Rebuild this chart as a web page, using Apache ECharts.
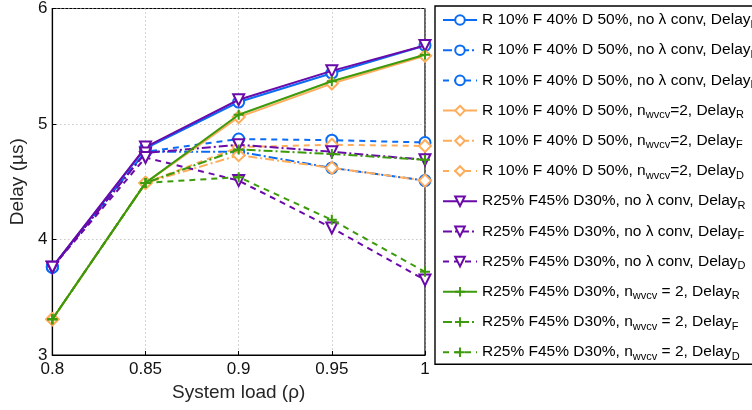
<!DOCTYPE html>
<html><head><meta charset="utf-8">
<script src="https://cdn.jsdelivr.net/npm/echarts@6/dist/echarts.min.js"></script>
<style>html,body{margin:0;padding:0;background:#fff}#c{width:752px;height:410px}</style>
</head><body><div id="c"></div>
<script>
var loads = [0.8, 0.85, 0.9, 0.95, 1.0];
var xTickLabels = ['0.8', '0.85', '0.9', '0.95', '1'];
var yTickLabels = ['3', '4', '5', '6'];

var r10_noconv_R = [3.76, 4.79, 5.19, 5.44, 5.68];
var r10_noconv_F = [3.76, 4.76, 4.76, 4.62, 4.51];
var r10_noconv_D = [3.76, 4.76, 4.87, 4.86, 4.84];
var r10_wvcv_R = [3.31, 4.49, 5.06, 5.35, 5.59];
var r10_wvcv_F = [3.31, 4.49, 4.73, 4.62, 4.51];
var r10_wvcv_D = [3.31, 4.49, 4.80, 4.82, 4.81];
var r25_noconv_R = [3.76, 4.80, 5.21, 5.46, 5.68];
var r25_noconv_F = [3.76, 4.75, 4.82, 4.76, 4.69];
var r25_noconv_D = [3.76, 4.71, 4.51, 4.10, 3.65];
var r25_wvcv_R = [3.31, 4.49, 5.08, 5.37, 5.60];
var r25_wvcv_F = [3.31, 4.49, 4.78, 4.74, 4.69];
var r25_wvcv_D = [3.31, 4.49, 4.54, 4.17, 3.72];

var names = [
  'R 10% F 40% D 50%, no λ conv, Delay|R',
  'R 10% F 40% D 50%, no λ conv, Delay|F',
  'R 10% F 40% D 50%, no λ conv, Delay|D',
  'R 10% F 40% D 50%, n|wvcv|=2, Delay|R',
  'R 10% F 40% D 50%, n|wvcv|=2, Delay|F',
  'R 10% F 40% D 50%, n|wvcv|=2, Delay|D',
  'R25% F45% D30%, no λ conv, Delay|R',
  'R25% F45% D30%, no λ conv, Delay|F',
  'R25% F45% D30%, no λ conv, Delay|D',
  'R25% F45% D30%, n|wvcv| = 2, Delay|R',
  'R25% F45% D30%, n|wvcv| = 2, Delay|F',
  'R25% F45% D30%, n|wvcv| = 2, Delay|D'
];
var values = [r10_noconv_R, r10_noconv_F, r10_noconv_D, r10_wvcv_R, r10_wvcv_F, r10_wvcv_D,
              r25_noconv_R, r25_noconv_F, r25_noconv_D, r25_wvcv_R, r25_wvcv_F, r25_wvcv_D];

var BLUE = '#0a6cf5', ORANGE = '#ffad5c', PURPLE = '#6a0aa8', GREEN = '#3c9a0c';
var colors = [BLUE, BLUE, BLUE, ORANGE, ORANGE, ORANGE, PURPLE, PURPLE, PURPLE, GREEN, GREEN, GREEN];
var PLUS = 'path://M4,0H6V4H10V6H6V10H4V6H0V4H4Z';
var symbols = ['emptyCircle','emptyCircle','emptyCircle','emptyDiamond','emptyDiamond','emptyDiamond',
               'emptyTriangle','emptyTriangle','emptyTriangle',PLUS,PLUS,PLUS];
var rot = [0,0,0,0,0,0,180,180,180,0,0,0];
var dashes = ['solid', [9,3,2,3], [6,5]];

var series = values.map(function (v, i) {
  return {
    name: names[i],
    type: 'line',
    data: loads.map(function (x, k) { return [x, v[k]]; }),
    symbol: symbols[i],
    symbolRotate: rot[i],
    symbolSize: symbols[i] === PLUS ? 10 : (symbols[i] === 'emptyDiamond' ? 12 : 11),
    showAllSymbol: true,
    color: colors[i],
    itemStyle: { color: colors[i], borderWidth: 1.6 },
    lineStyle: { color: colors[i], width: 2, type: dashes[i % 3] },
    animation: false,
    z: 2 + i
  };
});

function fmt(name) {
  var parts = name.split('|');
  if (parts.length === 2) return '{m|' + parts[0] + '}{s|' + parts[1] + '}';
  return '{m|' + parts[0] + '}{s|' + parts[1] + '}{m|' + parts[2] + '}{s|' + parts[3] + '}';
}

var FF = 'Liberation Sans, Arial, sans-serif';
var chart = echarts.init(document.getElementById('c'), null, { renderer: 'canvas' });
chart.setOption({
  animation: false,
  textStyle: { fontFamily: FF },
  grid: { left: 44, right: 327, top: 8, bottom: 55, show: true, borderColor: '#000', borderWidth: 1.2, backgroundColor: 'transparent' },
  xAxis: {
    type: 'value', min: 0.8, max: 1.0, interval: 0.05,
    name: 'System load (ρ)', nameLocation: 'middle', nameGap: 28,
    nameTextStyle: { fontSize: 19, color: '#262626', fontFamily: FF },
    axisLine: { lineStyle: { color: '#000', width: 1.2 } },
    axisTick: { inside: true, length: 4, lineStyle: { color: '#000' } },
    axisLabel: { fontSize: 17, color: '#111', margin: 6,
      formatter: function (v) { var i = Math.round((v - 0.8) / 0.05); return xTickLabels[i]; } },
    splitLine: { show: true, lineStyle: { color: '#aaa', type: [1, 3], width: 1 } }
  },
  yAxis: {
    type: 'value', min: 3, max: 6, interval: 1,
    name: 'Delay (µs)', nameLocation: 'middle', nameGap: 25,
    nameTextStyle: { fontSize: 19, color: '#262626', fontFamily: FF },
    axisLine: { lineStyle: { color: '#000', width: 1.2 } },
    axisTick: { inside: true, length: 4, lineStyle: { color: '#000' } },
    axisLabel: { fontSize: 17, color: '#111', margin: 5,
      formatter: function (v) { return yTickLabels[Math.round(v - 3)]; } },
    splitLine: { show: true, lineStyle: { color: '#aaa', type: [1, 3], width: 1 } }
  },
  legend: {
    orient: 'vertical', left: 435, top: 6,
    padding: [2, 30, 2, 7],
    itemWidth: 34, itemHeight: 12, itemGap: 8.2,
    borderColor: '#000', borderWidth: 1.4, backgroundColor: '#fff',
    data: names,
    formatter: fmt,
    textStyle: {
      color: '#000',
      rich: {
        m: { fontSize: 15.5, lineHeight: 20, fontFamily: FF, color: '#000', verticalAlign: 'middle' },
        s: { fontSize: 11, lineHeight: 20, fontFamily: FF, color: '#000', verticalAlign: 'bottom', padding: [11, 0, 0, 0] }
      }
    }
  },
  series: series
});
</script></body></html>
